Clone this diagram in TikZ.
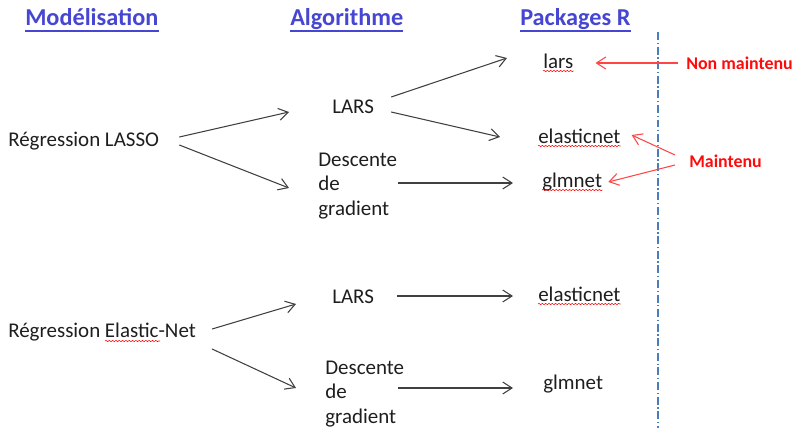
\documentclass[tikz,border=0pt]{standalone}
\usepackage{fontspec}
\setmainfont{Carlito}
\usetikzlibrary{arrows.meta,decorations.pathmorphing}

\definecolor{titrebleu}{RGB}{70,70,210}
\definecolor{gristexte}{RGB}{30,30,30}
\definecolor{grisfleche}{RGB}{64,64,64}
\definecolor{bleutiret}{RGB}{74,126,187}
\definecolor{rougevif}{RGB}{255,10,10}
\definecolor{rougefleche}{RGB}{255,70,70}

\tikzset{
  titre/.style={anchor=base west, inner sep=0pt, text=titrebleu, font=\fontsize{18.3}{22}\selectfont\bfseries},
  soustitre/.style={titrebleu, line width=1.1pt},
  texte/.style={anchor=base west, inner sep=0pt, text=gristexte, font=\fontsize{15.8}{18.75}\selectfont},
  bloc/.style={anchor=west, inner sep=0pt, align=left, text=gristexte, font=\fontsize{15.8}{18.75}\selectfont},
  rouge/.style={anchor=base west, inner sep=0pt, text=rougevif, font=\fontsize{13.5}{16}\selectfont\bfseries},
  fleche/.style={grisfleche, line width=0.8pt, -{Straight Barb[length=7pt,width=9pt]}},
  flecherouge/.style={rougefleche, line width=0.8pt, -{Straight Barb[length=7pt,width=9pt]}},
  ondule/.style={red, line width=0.4pt, decorate, decoration={snake, amplitude=0.5pt, segment length=2.5pt}}
}

\begin{document}
\begin{tikzpicture}[x=0.0265cm, y=-0.0265cm]
\useasboundingbox (0,0) rectangle (796,428);

% Titres
\node[titre] (modl) at (25,25) {Modélisation};
\node[titre] (algo) at (290,25) {Algorithme};
\node[titre] (pack) at (520,25) {Packages R};
\foreach \t in {modl,algo,pack}
  \draw[soustitre] ([shift={(0,6)}]\t.base west) -- ([shift={(0,6)}]\t.base east);

% Separation
\draw[bleutiret, line width=0.8pt, dash pattern=on 6pt off 2pt on 1pt off 2pt] (658,32) -- (658,428);

% LASSO
\node[texte] (lasso) at (8,146) {Régression LASSO};
\node[texte] (larsA) at (332,113) {LARS};
\node[bloc] (descA) at (318,186) {Descente\\de\\gradient};
\node[texte] (larsP) at (543,68) {lars};
\node[texte] (elasA) at (538,143) {elasticnet};
\node[texte] (glmA) at (542,187) {glmnet};

% Elastic-Net
\node[texte] (elastic) at (8,337) {Régression Elastic-Net};
\node[texte] (larsB) at (332,303) {LARS};
\node[bloc] (descB) at (325,394) {Descente\\de\\gradient};
\node[texte] (elasB) at (538,301) {elasticnet};
\node[texte] (glmB) at (543,389) {glmnet};

% Commentaires
\node[rouge] (nonm) at (686,69) {Non maintenu};
\node[rouge] (maint) at (689,167) {Maintenu};

% Fleches
\draw[fleche] ([shift={(20,-9)}]lasso.base east) -- ([shift={(-43,-1)}]larsA.base west);
\draw[fleche] ([shift={(20,-1)}]lasso.base east) -- ([shift={(-29,2)}]descA.west);
\draw[fleche] ([shift={(17,-16)}]larsA.base east) -- ([shift={(-36,-10)}]larsP.base west);
\draw[fleche] ([shift={(17,-1)}]larsA.base east) -- ([shift={(-38,-6)}]elasA.base west);
\draw[fleche] ([shift={(1,-3)}]descA.east) -- ([shift={(-29,-4)}]glmA.base west);

\draw[fleche] ([shift={(16,-8)}]elastic.base east) -- ([shift={(-36,1)}]larsB.base west);
\draw[fleche] ([shift={(16,12)}]elastic.base east) -- ([shift={(-29,-6)}]descB.west);
\draw[fleche] ([shift={(23,-7)}]larsB.base east) -- ([shift={(-25,-5)}]elasB.base west);
\draw[fleche] ([shift={(-6,-6)}]descB.east) -- ([shift={(-30,-1)}]glmB.base west);

\draw[flecherouge] ([shift={(-8,-6)}]nonm.base west) -- ([shift={(22,-5)}]larsP.base east);
\draw[flecherouge] ([shift={(-14,-12)}]maint.base west) -- ([shift={(11,-8)}]elasA.base east);
\draw[flecherouge] ([shift={(-14,-2)}]maint.base west) -- ([shift={(6,-5)}]glmA.base east);

% Soulignement orthographe
\foreach \t in {larsP,elasA,glmA,elasB}
  \draw[ondule] ([shift={(0,3)}]\t.base west) -- ([shift={(0,3)}]\t.base east);
\draw[ondule] ([shift={(97,4)}]elastic.base west) -- ([shift={(152,4)}]elastic.base west);

\end{tikzpicture}
\end{document}
